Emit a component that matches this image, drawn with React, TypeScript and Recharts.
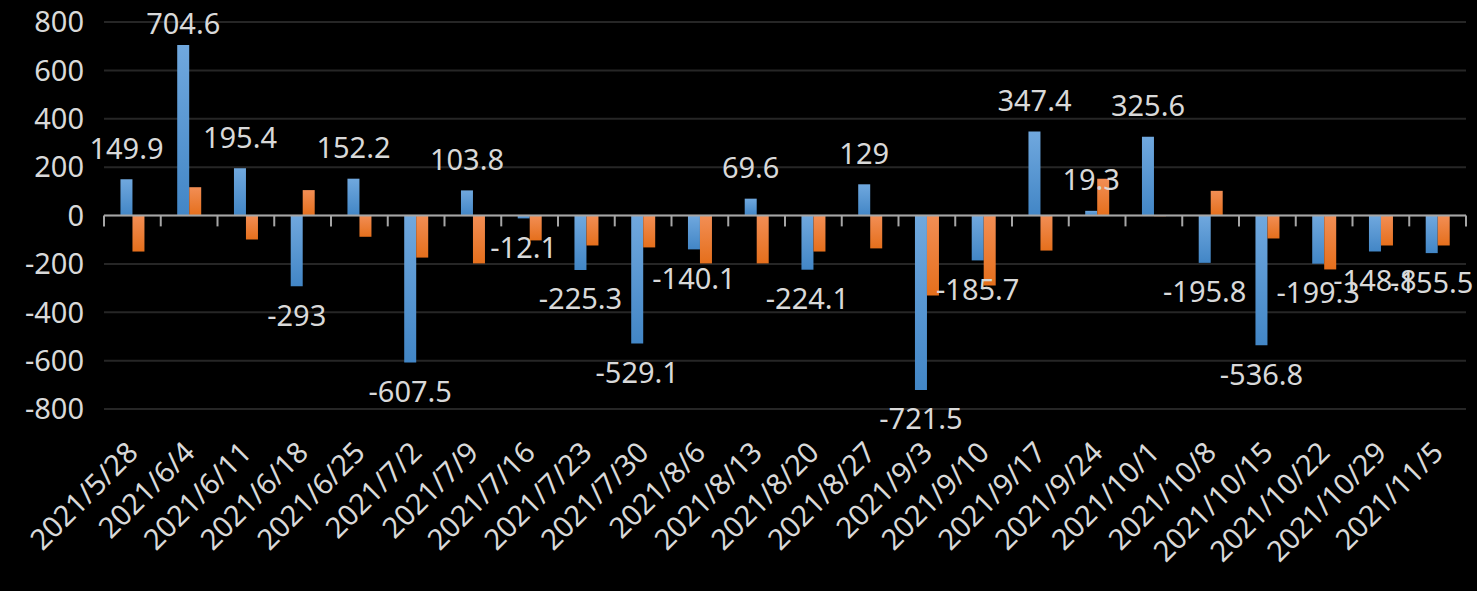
import React from 'react';
import { BarChart, Bar, XAxis, YAxis, CartesianGrid, ReferenceLine, LabelList } from 'recharts';

const weeks = [
  '2021/5/28', '2021/6/4', '2021/6/11', '2021/6/18', '2021/6/25', '2021/7/2',
  '2021/7/9', '2021/7/16', '2021/7/23', '2021/7/30', '2021/8/6', '2021/8/13',
  '2021/8/20', '2021/8/27', '2021/9/3', '2021/9/10', '2021/9/17', '2021/9/24',
  '2021/10/1', '2021/10/8', '2021/10/15', '2021/10/22', '2021/10/29', '2021/11/5',
];

const blueValues = [
  149.9, 704.6, 195.4, -293, 152.2, -607.5, 103.8, -12.1, -225.3, -529.1, -140.1, 69.6,
  -224.1, 129, -721.5, -185.7, 347.4, 19.3, 325.6, -195.8, -536.8, -199.3, -148.8, -155.5,
];

// orange series has no labels
const orangeValues = [
  -149, 117, -99, 105, -88, -174, -198, -103, -124, -132, -198, -198,
  -149, -136, -331, -289, -145, 152, -3, 102, -95, -223, -124, -124,
];

const yTicks = [-800, -600, -400, -200, 0, 200, 400, 600, 800];

const data = weeks.map((w, i) => ({ week: w, blue: blueValues[i], orange: orangeValues[i] }));

const FONT = '"Noto Sans", "Liberation Sans", sans-serif';
const TEXT = '#d9d9d9';
const AXIS = '#a6a6a6';
const TICK_LEN = 45; // tick mark length below the zero line, in value units

const XTick = (props: any) => {
  const { x, y, payload } = props;
  return (
    <text
      x={x}
      y={y}
      transform={`rotate(-45, ${x}, ${y})`}
      textAnchor="end"
      dy="0.36em"
      fill={TEXT}
      fontSize={29}
      fontFamily={FONT}
    >
      {payload.value}
    </text>
  );
};

const ValueLabel = (props: any) => {
  const { x, y, width, height, value } = props;
  const top = Math.min(y, y + height);
  const bottom = Math.max(y, y + height);
  const cy = value >= 0 ? Math.max(top - 31, 24) : bottom + 29;
  return (
    <text
      x={x + width / 2}
      y={cy}
      dy="0.36em"
      textAnchor="middle"
      fill={TEXT}
      fontSize={29}
      fontFamily={FONT}
    >
      {value}
    </text>
  );
};

export default function App() {
  const last = weeks[weeks.length - 1];
  return (
    <div style={{ position: 'absolute', left: 0, top: 0, width: 1477, height: 591, background: '#000' }}>
      <BarChart
        width={1477}
        height={591}
        data={data}
        margin={{ top: 22, right: 11, left: 0, bottom: 0 }}
        barCategoryGap="29%"
        barGap={0}
      >
        <defs>
          <linearGradient id="gBlue" x1="0" y1="0" x2="0" y2="1">
            <stop offset="0%" stopColor="#70a8de" />
            <stop offset="100%" stopColor="#4286c6" />
          </linearGradient>
          <linearGradient id="gOrange" x1="0" y1="0" x2="0" y2="1">
            <stop offset="0%" stopColor="#f28e55" />
            <stop offset="100%" stopColor="#e56f1c" />
          </linearGradient>
        </defs>
        <CartesianGrid vertical={false} stroke="#262626" strokeWidth={2} />
        <XAxis
          dataKey="week"
          height={182}
          axisLine={false}
          tickLine={false}
          tickSize={0}
          tickMargin={38}
          interval={0}
          tick={<XTick />}
        />
        <YAxis
          width={104}
          domain={[-800, 800]}
          ticks={yTicks}
          axisLine={false}
          tickLine={false}
          tickMargin={14}
          tick={{ fill: TEXT, fontSize: 29, fontFamily: FONT }}
        />
        <Bar dataKey="blue" fill="url(#gBlue)" isAnimationActive={false}>
          <LabelList dataKey="blue" content={<ValueLabel />} />
        </Bar>
        <Bar dataKey="orange" fill="url(#gOrange)" isAnimationActive={false} />
        <ReferenceLine y={0} stroke={AXIS} strokeWidth={2} />
        {weeks.map((w) => (
          <ReferenceLine
            key={w}
            segment={[{ x: w, y: 0 }, { x: w, y: -TICK_LEN }]}
            position="start"
            ifOverflow="visible"
            stroke={AXIS}
            strokeWidth={2}
          />
        ))}
        <ReferenceLine
          segment={[{ x: last, y: 0 }, { x: last, y: -TICK_LEN }]}
          position="end"
          ifOverflow="visible"
          stroke={AXIS}
          strokeWidth={2}
        />
      </BarChart>
    </div>
  );
}
